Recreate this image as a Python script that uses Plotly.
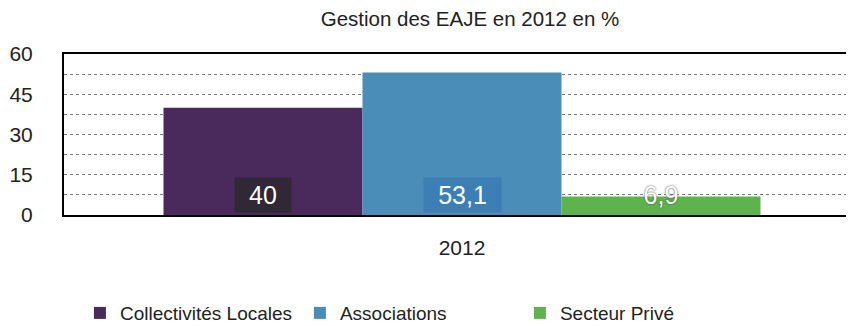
import plotly.graph_objects as go

# data
categories = ["2012"]
series_names = ["Collectivités Locales", "Associations", "Secteur Privé"]
series_values = [40, 53.1, 6.9]
value_labels = ["40", "53,1", "6,9"]
colors = ["#4a2a5d", "#4a8db8", "#5db44c"]
label_bg = ["rgba(45,40,48,0.88)", "rgba(58,126,180,0.95)", "rgba(0,0,0,0)"]
label_shadow = ["none", "none", "0px 0px 2px #333"]
label_box_w = [52, 73, 50]
tick_vals = [0, 15, 30, 45, 60]

FONT = "Liberation Sans, Arial, sans-serif"

fig = go.Figure()
for name, val, col in zip(series_names, series_values, colors):
    fig.add_trace(go.Bar(
        x=categories, y=[val], name=name, marker=dict(color=col, line=dict(width=0)),
        hoverinfo="skip",
    ))

# value labels sitting near the bottom of each bar
n = len(series_names)
bar_w = 0.75 / n
for i, (lab, bg, sh, bw) in enumerate(zip(value_labels, label_bg, label_shadow, label_box_w)):
    xpos = -0.375 + bar_w * (i + 0.5)
    fig.add_annotation(
        x=xpos, y=0, yref="y", xref="x", yanchor="bottom", yshift=2,
        text=lab, showarrow=False, bgcolor=bg, borderpad=2,
        width=bw, height=30,
        font=dict(family=FONT, size=25, color="white", shadow=sh),
    )

# the page body has an 8px margin; the plot runs past the right edge like the original
fig.update_layout(
    width=854, height=326,
    paper_bgcolor="white", plot_bgcolor="white",
    barmode="group", bargap=0.25, bargroupgap=0,
    margin=dict(l=56, r=2, t=46, b=119),
    font=dict(family=FONT, color="#222"),
    title=dict(text="Gestion des EAJE en 2012 en %", x=0.541, xanchor="center",
               xref="container", y=1, yanchor="top", pad=dict(t=4),
               font=dict(size=20.5, color="#222")),
    showlegend=True,
    legend=dict(orientation="h", x=0.02, xanchor="left", y=-0.609, yanchor="middle",
                entrywidth=175, entrywidthmode="pixels",
                font=dict(size=19, color="#222"), traceorder="normal"),
)
fig.update_xaxes(
    type="category", range=[-0.5, 0.5], automargin=False,
    showline=True, linecolor="black", linewidth=2, mirror=True,
    ticks="", tickfont=dict(size=21, color="#222"), ticklabelstandoff=13,
)
fig.update_yaxes(
    range=[0, 60], tickvals=tick_vals, ticktext=[str(v) for v in tick_vals],
    automargin=False,
    showline=True, linecolor="black", linewidth=2, mirror=True,
    showgrid=True, gridcolor="#7a7a7a", griddash="dot", gridwidth=1,
    minor=dict(dtick=7.5, showgrid=True, gridcolor="#7a7a7a", griddash="dot", gridwidth=1),
    ticks="", tickfont=dict(size=21, color="#222"), ticklabelstandoff=25,
    zeroline=False,
)

fig.write_html("out.html")
